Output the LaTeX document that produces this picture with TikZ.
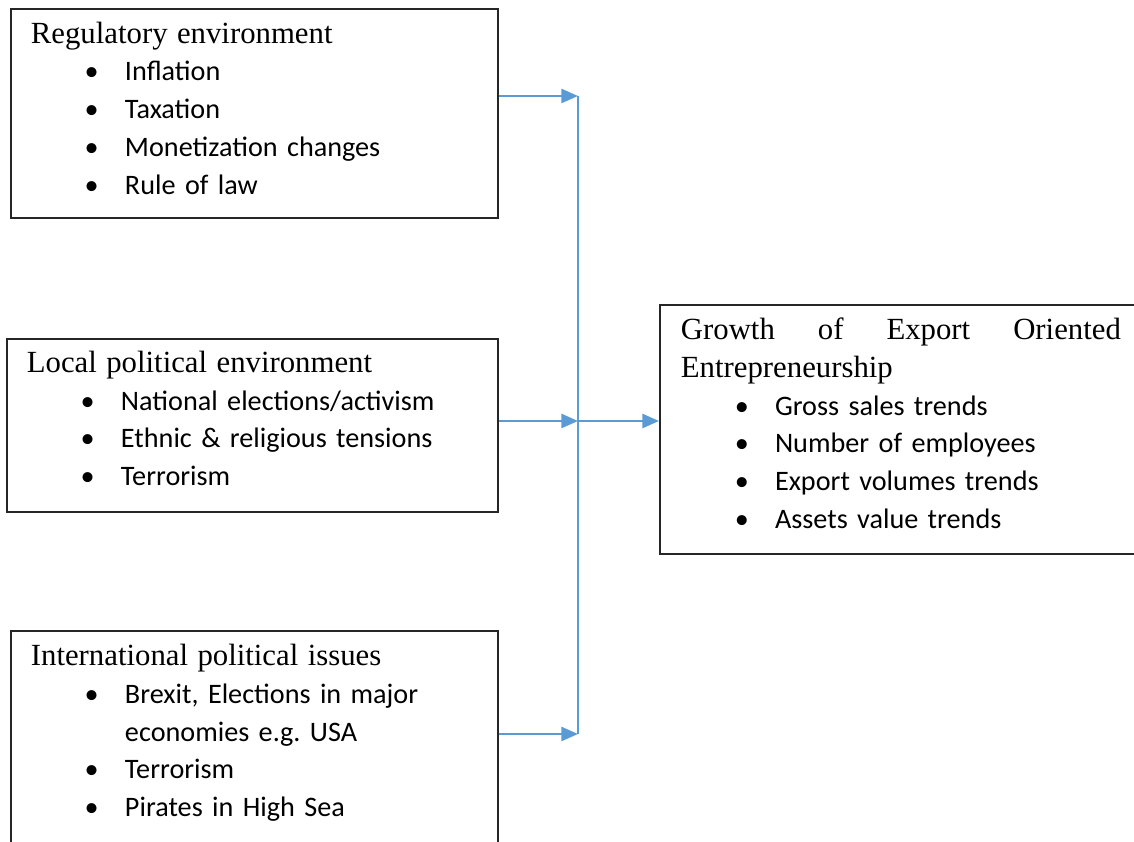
\documentclass[tikz,border=0pt]{standalone}
\usepackage{fontspec}
\setmainfont{Liberation Serif}
\setsansfont{Carlito}
\usetikzlibrary{positioning,arrows.meta}
\definecolor{Azul}{HTML}{5B9BD5}
\definecolor{Borde}{HTML}{262626}
\newcommand\ttl[1]{{\rmfamily\fontsize{12}{14.7}\selectfont #1}}
\newcommand\itm{\hspace*{21pt}\makebox[15.7pt][l]{\textbullet}}
\newcommand\lift[1]{\rule[-#1]{0pt}{#1}}

\begin{document}
\begin{tikzpicture}[x=0.39pt,y=-0.39pt,
    every node/.style={font=\sffamily\fontsize{11}{14.7}\selectfont},
    factor/.style={draw=Borde,line width=0.7pt,anchor=north west,inner xsep=7.8pt,inner ysep=0pt,align=left},
    flow/.style={draw=Azul,line width=0.9pt,-{Triangle[length=6.5pt,width=5.5pt]}},
    link/.style={draw=Azul,line width=0.9pt}
  ]
  \useasboundingbox (0,0) rectangle (1134,842);
  \node[factor,text width=174.3pt,minimum height=81.5pt] (reg) at (10,8) {\ttl{Regulatory environment}\\
    \itm Inflation\\
    \itm Taxation\\
    \itm Monetization changes\\
    \itm Rule of law\lift{4.2pt}};
  \node[factor,text width=175.9pt,minimum height=67.5pt] (loc) at (6,338) {\ttl{Local political environment}\\
    \itm National elections/activism\\
    \itm Ethnic \& religious tensions\\
    \itm Terrorism\lift{5.5pt}};
  \node[factor,text width=174.3pt,minimum height=93.6pt] (intl) at (10,630) {\ttl{International political issues}\\
    \itm Brexit, Elections in major\\
    \hspace*{36.7pt}economies e.g.\ USA\\
    \itm Terrorism\\
    \itm Pirates in High Sea\lift{16pt}};
  \node[factor,text width=171.6pt,inner xsep=8.2pt,minimum height=97pt] (growth) at (659,304) {\ttl{Growth\hfill of\hfill Export\hfill Oriented}\\
    \ttl{Entrepreneurship}\\
    \itm Gross sales trends\\
    \itm Number of employees\\
    \itm Export volumes trends\\
    \itm Assets value trends\lift{4.7pt}};
  % junction points on the collector line
  \coordinate (j1) at (578,96);
  \coordinate (j2) at (578,421);
  \coordinate (j3) at (578,734);
  \draw[link] (j1) -- (j3);
  \draw[flow] (j1 -| reg.east) -- (j1);
  \draw[flow] (j2 -| loc.east) -- (j2);
  \draw[flow] (j3 -| intl.east) -- (j3);
  \draw[flow] (j2) -- (j2 -| growth.west);
\end{tikzpicture}
\end{document}
